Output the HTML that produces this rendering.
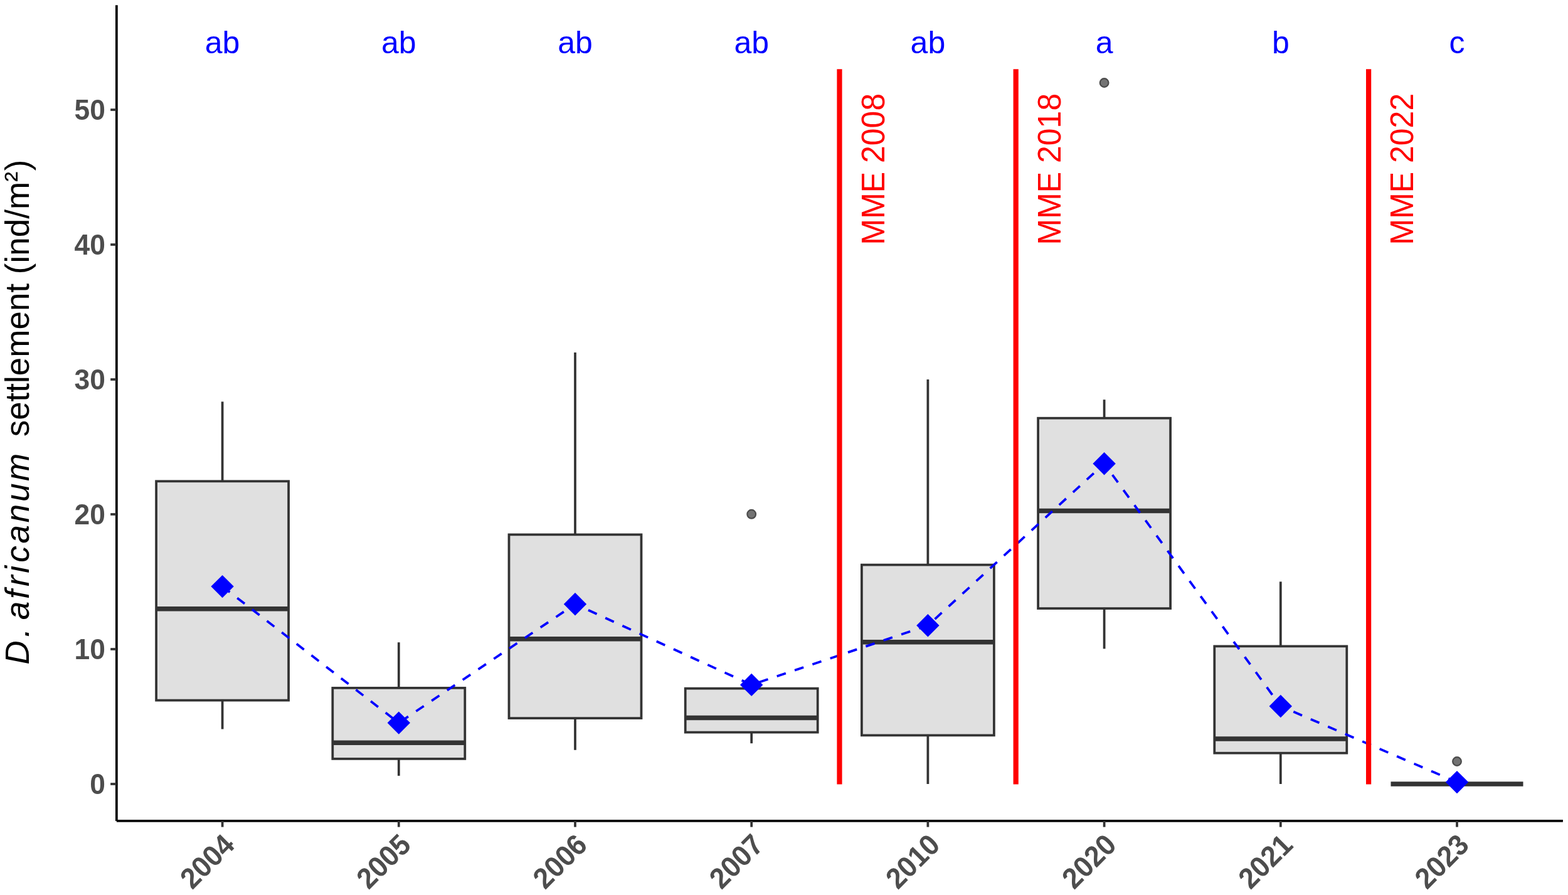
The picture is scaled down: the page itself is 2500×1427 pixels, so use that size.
<!DOCTYPE html>
<html lang="en"><head><meta charset="utf-8"><title>D. africanum settlement</title>
<style>html,body{margin:0;padding:0;background:#fff;}body{width:2500px;height:1427px;overflow:hidden;}svg{display:block;}text{font-family:"Liberation Sans",Arial,Helvetica,sans-serif;}.tk{font-weight:bold;font-size:44.4px;fill:#4D4D4D;}.lt{font-size:50.0px;fill:#0000FF;}.mm{font-size:50.0px;fill:#FF0000;}.yt{font-size:53px;fill:#000;}</style></head><body>
<svg width="2500" height="1427" viewBox="0 0 2500 1427">
<rect x="0" y="0" width="2500" height="1427" fill="#FFFFFF"/>
<g stroke="#333333" stroke-width="3.76" fill="none" stroke-linecap="butt" stroke-linejoin="miter">
<line x1="354.6" y1="640.4" x2="354.6" y2="767.3"/>
<line x1="354.6" y1="1116.6" x2="354.6" y2="1162.5"/>
<rect x="249.1" y="767.3" width="211.0" height="349.3" fill="#E0E0E0"/>
<line x1="249.1" y1="970.7" x2="460.1" y2="970.7" stroke-width="7.53"/>
<line x1="635.8" y1="1024.2" x2="635.8" y2="1096.9"/>
<line x1="635.8" y1="1209.9" x2="635.8" y2="1236.9"/>
<rect x="530.3" y="1096.9" width="211.0" height="113.0" fill="#E0E0E0"/>
<line x1="530.3" y1="1184.2" x2="741.3" y2="1184.2" stroke-width="7.53"/>
<line x1="917.0" y1="562.0" x2="917.0" y2="852.4"/>
<line x1="917.0" y1="1145.1" x2="917.0" y2="1195.8"/>
<rect x="811.5" y="852.4" width="211.0" height="292.7" fill="#E0E0E0"/>
<line x1="811.5" y1="1018.7" x2="1022.5" y2="1018.7" stroke-width="7.53"/>
<circle cx="1198.2" cy="819.8" r="6.85" fill="#737373" stroke="#4B4B4B" stroke-width="2.2"/>
<line x1="1198.2" y1="1167.6" x2="1198.2" y2="1185.2"/>
<rect x="1092.7" y="1097.7" width="211.0" height="69.9" fill="#E0E0E0"/>
<line x1="1092.7" y1="1144.4" x2="1303.7" y2="1144.4" stroke-width="7.53"/>
<line x1="1479.4" y1="604.9" x2="1479.4" y2="900.6"/>
<line x1="1479.4" y1="1172.4" x2="1479.4" y2="1250.0"/>
<rect x="1373.9" y="900.6" width="211.0" height="271.8" fill="#E0E0E0"/>
<line x1="1373.9" y1="1023.8" x2="1584.9" y2="1023.8" stroke-width="7.53"/>
<circle cx="1760.6" cy="132.0" r="6.85" fill="#737373" stroke="#4B4B4B" stroke-width="2.2"/>
<line x1="1760.6" y1="637.2" x2="1760.6" y2="666.7"/>
<line x1="1760.6" y1="970.1" x2="1760.6" y2="1034.4"/>
<rect x="1655.1" y="666.7" width="211.0" height="303.4" fill="#E0E0E0"/>
<line x1="1655.1" y1="814.4" x2="1866.1" y2="814.4" stroke-width="7.53"/>
<line x1="2041.8" y1="927.4" x2="2041.8" y2="1030.4"/>
<line x1="2041.8" y1="1200.7" x2="2041.8" y2="1250.0"/>
<rect x="1936.3" y="1030.4" width="211.0" height="170.3" fill="#E0E0E0"/>
<line x1="1936.3" y1="1178.0" x2="2147.3" y2="1178.0" stroke-width="7.53"/>
<circle cx="2323.0" cy="1214.0" r="6.85" fill="#737373" stroke="#4B4B4B" stroke-width="2.2"/>
<line x1="2217.5" y1="1250.0" x2="2428.5" y2="1250.0" stroke-width="7.53"/>
</g>
<polyline points="354.6,935.1 635.8,1152.6 917.0,963.2 1198.2,1091.9 1479.4,997.3 1760.6,739.2 2041.8,1126.0 2323.0,1247.1" fill="none" stroke="#0000FF" stroke-width="3.76" stroke-dasharray="14.95 14.95" stroke-linecap="butt" stroke-linejoin="round"/>
<polygon points="354.6,916.9 372.8,935.1 354.6,953.3 336.4,935.1" fill="#0000FF"/>
<polygon points="635.8,1134.4 654.0,1152.6 635.8,1170.8 617.6,1152.6" fill="#0000FF"/>
<polygon points="917.0,945.0 935.2,963.2 917.0,981.4 898.8,963.2" fill="#0000FF"/>
<polygon points="1198.2,1073.7 1216.4,1091.9 1198.2,1110.1 1180.0,1091.9" fill="#0000FF"/>
<polygon points="1479.4,979.1 1497.6,997.3 1479.4,1015.5 1461.2,997.3" fill="#0000FF"/>
<polygon points="1760.6,721.0 1778.8,739.2 1760.6,757.4 1742.4,739.2" fill="#0000FF"/>
<polygon points="2041.8,1107.8 2060.0,1126.0 2041.8,1144.2 2023.6,1126.0" fill="#0000FF"/>
<polygon points="2323.0,1228.9 2341.2,1247.1 2323.0,1265.3 2304.8,1247.1" fill="#0000FF"/>
<line x1="1338.5" y1="110.3" x2="1338.5" y2="1250.4" stroke="#FF0000" stroke-width="8.2"/>
<line x1="1619.7" y1="110.3" x2="1619.7" y2="1250.4" stroke="#FF0000" stroke-width="8.2"/>
<line x1="2182.1" y1="110.3" x2="2182.1" y2="1250.4" stroke="#FF0000" stroke-width="8.2"/>
<text class="mm" transform="translate(1409.60,390.50) rotate(-90) scale(1,1.0450)" x="0" y="0">MME 2008</text>
<text class="mm" transform="translate(1690.80,390.50) rotate(-90) scale(1,1.0450)" x="0" y="0">MME 2018</text>
<text class="mm" transform="translate(2253.20,390.50) rotate(-90) scale(1,1.0450)" x="0" y="0">MME 2022</text>
<text class="lt" x="354.6" y="85.3" text-anchor="middle">ab</text>
<text class="lt" x="635.8" y="85.3" text-anchor="middle">ab</text>
<text class="lt" x="917.0" y="85.3" text-anchor="middle">ab</text>
<text class="lt" x="1198.2" y="85.3" text-anchor="middle">ab</text>
<text class="lt" x="1479.4" y="85.3" text-anchor="middle">ab</text>
<text class="lt" x="1760.6" y="85.3" text-anchor="middle">a</text>
<text class="lt" x="2041.8" y="85.3" text-anchor="middle">b</text>
<text class="lt" x="2323.0" y="85.3" text-anchor="middle">c</text>
<g stroke="#000000" stroke-width="3.76" fill="none" stroke-linecap="butt">
<line x1="185.88" y1="8.3" x2="185.88" y2="1309"/>
<line x1="185.88" y1="1308.9" x2="2491.9" y2="1308.9"/>
</g>
<g stroke="#333333" stroke-width="3.76" fill="none">
<line x1="176.2" y1="1250.0" x2="185.88" y2="1250.0"/>
<line x1="176.2" y1="1035.0" x2="185.88" y2="1035.0"/>
<line x1="176.2" y1="820.0" x2="185.88" y2="820.0"/>
<line x1="176.2" y1="605.0" x2="185.88" y2="605.0"/>
<line x1="176.2" y1="390.0" x2="185.88" y2="390.0"/>
<line x1="176.2" y1="175.0" x2="185.88" y2="175.0"/>
<line x1="354.6" y1="1309" x2="354.6" y2="1318.6"/>
<line x1="635.8" y1="1309" x2="635.8" y2="1318.6"/>
<line x1="917.0" y1="1309" x2="917.0" y2="1318.6"/>
<line x1="1198.2" y1="1309" x2="1198.2" y2="1318.6"/>
<line x1="1479.4" y1="1309" x2="1479.4" y2="1318.6"/>
<line x1="1760.6" y1="1309" x2="1760.6" y2="1318.6"/>
<line x1="2041.8" y1="1309" x2="2041.8" y2="1318.6"/>
<line x1="2323.0" y1="1309" x2="2323.0" y2="1318.6"/>
</g>
<text class="tk" transform="translate(168.00,1265.90) scale(1,1.0450)" x="0" y="0" text-anchor="end">0</text>
<text class="tk" transform="translate(168.00,1050.90) scale(1,1.0450)" x="0" y="0" text-anchor="end">10</text>
<text class="tk" transform="translate(168.00,835.90) scale(1,1.0450)" x="0" y="0" text-anchor="end">20</text>
<text class="tk" transform="translate(168.00,620.90) scale(1,1.0450)" x="0" y="0" text-anchor="end">30</text>
<text class="tk" transform="translate(168.00,405.90) scale(1,1.0450)" x="0" y="0" text-anchor="end">40</text>
<text class="tk" transform="translate(168.00,190.90) scale(1,1.0450)" x="0" y="0" text-anchor="end">50</text>
<text class="tk" transform="translate(376.40,1349.70) rotate(-45) scale(1,1.0450)" x="0" y="0" text-anchor="end">2004</text>
<text class="tk" transform="translate(657.60,1349.70) rotate(-45) scale(1,1.0450)" x="0" y="0" text-anchor="end">2005</text>
<text class="tk" transform="translate(938.80,1349.70) rotate(-45) scale(1,1.0450)" x="0" y="0" text-anchor="end">2006</text>
<text class="tk" transform="translate(1220.00,1349.70) rotate(-45) scale(1,1.0450)" x="0" y="0" text-anchor="end">2007</text>
<text class="tk" transform="translate(1501.20,1349.70) rotate(-45) scale(1,1.0450)" x="0" y="0" text-anchor="end">2010</text>
<text class="tk" transform="translate(1782.40,1349.70) rotate(-45) scale(1,1.0450)" x="0" y="0" text-anchor="end">2020</text>
<text class="tk" transform="translate(2063.60,1349.70) rotate(-45) scale(1,1.0450)" x="0" y="0" text-anchor="end">2021</text>
<text class="tk" transform="translate(2344.80,1349.70) rotate(-45) scale(1,1.0450)" x="0" y="0" text-anchor="end">2023</text>
<text class="yt" font-size="52.50px" transform="translate(46.30,1059.40) rotate(-90)"><tspan font-style="italic" x="0.00 43.25" y="0">D. </tspan><tspan font-style="italic" x="71.18 104.33 124.35 145.78 162.78 192.98 226.14 259.29 292.36" y="0">africanum </tspan><tspan x="363.04" y="0">settlement (ind/m</tspan><tspan dy="-5.7" font-size="49px">²</tspan><tspan dy="5.7" dx="1.2">)</tspan></text>
</svg></body></html>
